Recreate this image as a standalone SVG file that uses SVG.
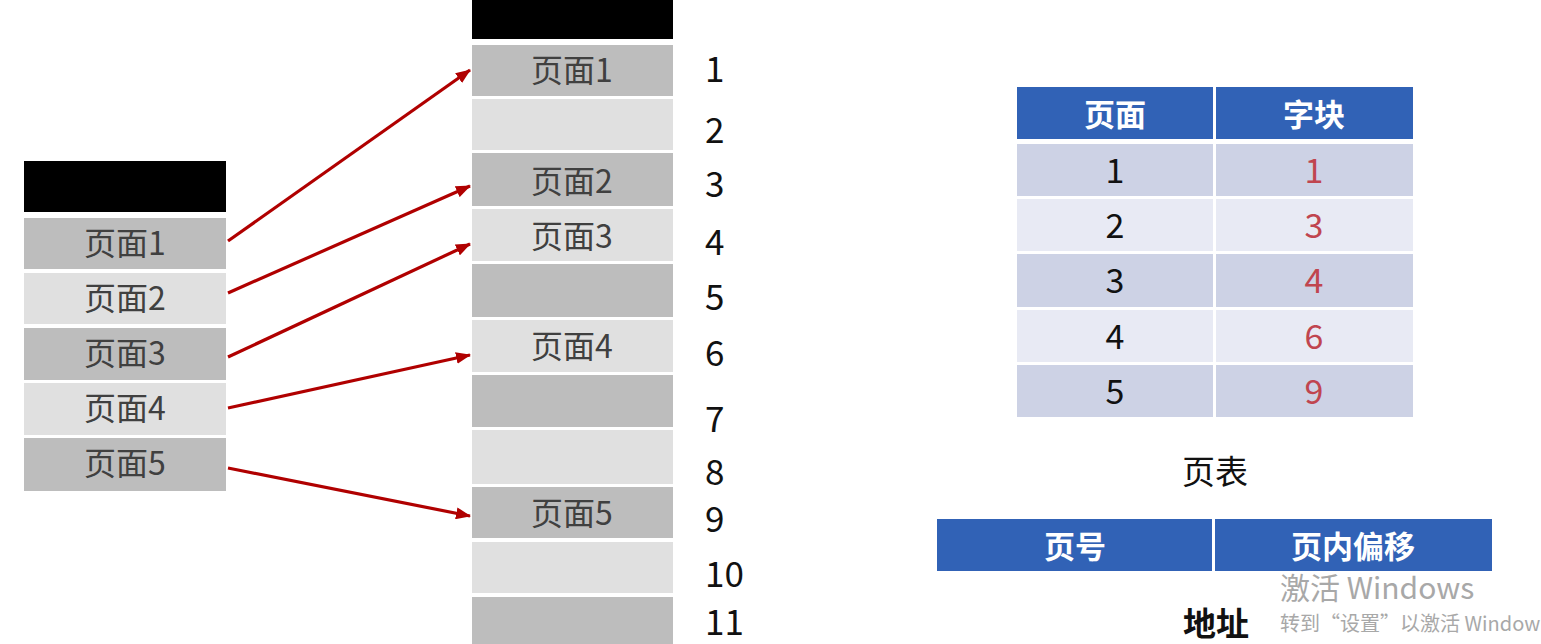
<svg xmlns="http://www.w3.org/2000/svg" width="1541" height="644" viewBox="0 0 1541 644">
<defs>
<style>
.dk{fill:#bdbdbd}
.lt{fill:#e0e0e0}
.blk{fill:#000}
.lbl{font-family:"Noto Sans CJK SC","Noto Sans",sans-serif;font-size:32px;fill:#404040;text-anchor:middle;dominant-baseline:central}
.num{font-family:"Noto Sans CJK SC","Noto Sans",sans-serif;font-size:35px;fill:#111}
.hd{fill:#3162b6}
.hdt{font-family:"Noto Sans CJK SC",sans-serif;font-size:31px;font-weight:bold;fill:#fff;text-anchor:middle;dominant-baseline:central}
.r1{fill:#cdd2e5}
.r2{fill:#e8eaf4}
.tk{font-family:"Noto Sans CJK SC","Noto Sans",sans-serif;font-size:34px;fill:#111;text-anchor:middle;dominant-baseline:central}
.tr{font-family:"Noto Sans CJK SC","Noto Sans",sans-serif;font-size:34px;fill:#c0454f;text-anchor:middle;dominant-baseline:central}
.cap{font-family:"Noto Sans CJK SC",sans-serif;font-size:33px;fill:#111;text-anchor:middle;dominant-baseline:central}
.arr{stroke:#b00000;stroke-width:3.2;fill:none;marker-end:url(#ah)}
.wm{font-family:"Noto Sans CJK SC","Noto Sans",sans-serif;fill:#a8a8a8}
</style>
<marker id="ah" markerUnits="userSpaceOnUse" markerWidth="16" markerHeight="12" refX="14" refY="6" orient="auto">
<path d="M0,0 L15,6 L0,12 z" fill="#b00000"/>
</marker>
</defs>

<g id="virtual-pages">
<rect class="blk" x="24" y="161" width="202" height="51"/>
<g id="v1"><rect class="dk" x="24" y="218" width="202" height="51"/><text class="lbl" x="125" y="241">页面1</text></g>
<g id="v2"><rect class="lt" x="24" y="273" width="202" height="51"/><text class="lbl" x="125" y="296">页面2</text></g>
<g id="v3"><rect class="dk" x="24" y="328" width="202" height="52"/><text class="lbl" x="125" y="351">页面3</text></g>
<g id="v4"><rect class="lt" x="24" y="383" width="202" height="52"/><text class="lbl" x="125" y="406">页面4</text></g>
<g id="v5"><rect class="dk" x="24" y="438" width="202" height="53"/><text class="lbl" x="125" y="461">页面5</text></g>
</g>

<g id="physical-blocks">
<rect class="blk" x="472" y="0" width="201" height="39"/>
<g id="b1"><rect class="dk" x="472" y="45" width="201" height="51"/><text class="lbl" x="572" y="68">页面1</text></g>
<g id="b2"><rect class="lt" x="472" y="99" width="201" height="51"/></g>
<g id="b3"><rect class="dk" x="472" y="153" width="201" height="53"/><text class="lbl" x="572" y="179">页面2</text></g>
<g id="b4"><rect class="lt" x="472" y="209" width="201" height="52"/><text class="lbl" x="572" y="234">页面3</text></g>
<g id="b5"><rect class="dk" x="472" y="264" width="201" height="53"/></g>
<g id="b6"><rect class="lt" x="472" y="320" width="201" height="52"/><text class="lbl" x="572" y="344">页面4</text></g>
<g id="b7"><rect class="dk" x="472" y="375" width="201" height="52"/></g>
<g id="b8"><rect class="lt" x="472" y="430" width="201" height="54"/></g>
<g id="b9"><rect class="dk" x="472" y="487" width="201" height="51"/><text class="lbl" x="572" y="511">页面5</text></g>
<g id="b10"><rect class="lt" x="472" y="542" width="201" height="51"/></g>
<g id="b11"><rect class="dk" x="472" y="597" width="201" height="47"/></g>
</g>

<g id="block-numbers">
<text class="num" x="705" y="82">1</text>
<text class="num" x="705" y="143">2</text>
<text class="num" x="705" y="197">3</text>
<text class="num" x="705" y="255">4</text>
<text class="num" x="705" y="310">5</text>
<text class="num" x="705" y="366">6</text>
<text class="num" x="705" y="432">7</text>
<text class="num" x="705" y="485">8</text>
<text class="num" x="705" y="532">9</text>
<text class="num" x="705" y="587">10</text>
<text class="num" x="705" y="635">11</text>
</g>

<g id="connectors">
<line class="arr" x1="228" y1="241" x2="470" y2="70"/>
<line class="arr" x1="228" y1="293" x2="470" y2="186"/>
<line class="arr" x1="228" y1="357" x2="470" y2="244"/>
<line class="arr" x1="228" y1="408" x2="470" y2="355"/>
<line class="arr" x1="228" y1="468" x2="470" y2="516"/>
</g>

<g id="page-table">
<rect class="hd" x="1017" y="87" width="196" height="52"/>
<rect class="hd" x="1216" y="87" width="197" height="52"/>
<text class="hdt" x="1115" y="112">页面</text>
<text class="hdt" x="1314" y="112">字块</text>
<rect class="r1" x="1017" y="144" width="196" height="52"/><rect class="r1" x="1216" y="144" width="197" height="52"/>
<rect class="r2" x="1017" y="199" width="196" height="52"/><rect class="r2" x="1216" y="199" width="197" height="52"/>
<rect class="r1" x="1017" y="254" width="196" height="53"/><rect class="r1" x="1216" y="254" width="197" height="53"/>
<rect class="r2" x="1017" y="310" width="196" height="52"/><rect class="r2" x="1216" y="310" width="197" height="52"/>
<rect class="r1" x="1017" y="365" width="196" height="52"/><rect class="r1" x="1216" y="365" width="197" height="52"/>
<text class="tk" x="1115" y="168">1</text><text class="tr" x="1314" y="168">1</text>
<text class="tk" x="1115" y="223">2</text><text class="tr" x="1314" y="223">3</text>
<text class="tk" x="1115" y="278">3</text><text class="tr" x="1314" y="278">4</text>
<text class="tk" x="1115" y="334">4</text><text class="tr" x="1314" y="334">6</text>
<text class="tk" x="1115" y="389">5</text><text class="tr" x="1314" y="389">9</text>
<text class="cap" x="1215" y="470">页表</text>
</g>

<g id="address-format">
<rect class="hd" x="937" y="519" width="275" height="52"/>
<rect class="hd" x="1215" y="519" width="277" height="52"/>
<text class="hdt" x="1075" y="544">页号</text>
<text class="hdt" x="1353" y="544">页内偏移</text>
<text class="cap" x="1216" y="622" font-weight="bold">地址</text>
</g>

<g id="watermark">
<text class="wm" x="1280" y="599" font-size="30">激活 Windows</text>
<text class="wm" x="1280" y="631" font-size="20">转到“设置”以激活 Window</text>
</g>
</svg>
